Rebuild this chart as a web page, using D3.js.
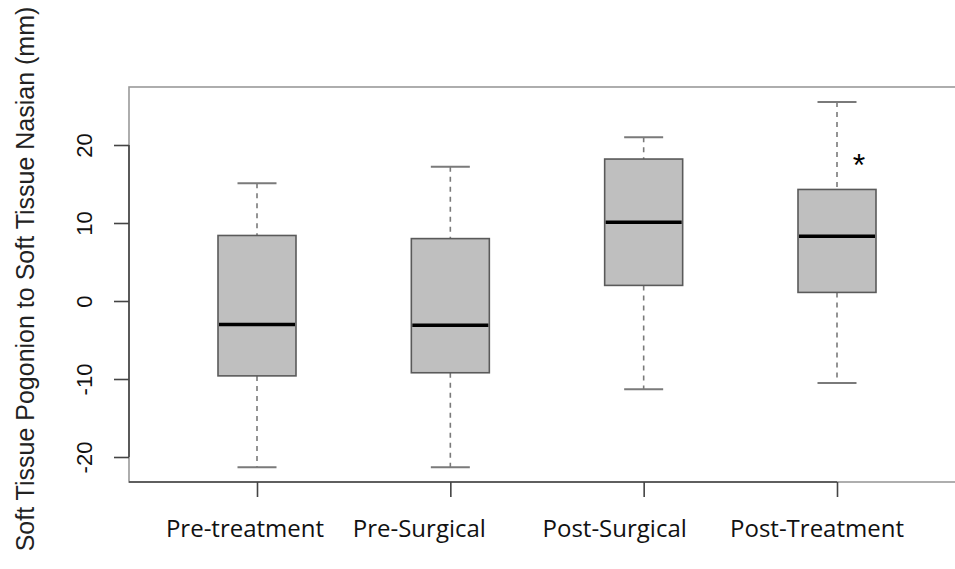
<!DOCTYPE html>
<html><head><meta charset="utf-8">
<script src="https://cdn.jsdelivr.net/npm/d3@7"></script>
<style>body{margin:0;background:#fff}svg{display:block}</style>
</head><body>
<svg id="c" width="955" height="569"></svg>
<script>
// ---- data ----
const categories = ["Pre-treatment", "Pre-Surgical", "Post-Surgical", "Post-Treatment"];
const whiskerLow  = [-21.3, -21.3, -11.3, -10.5];
const q1          = [-9.6,  -9.2,   2.0,   1.1];
const median      = [-3.0,  -3.1,  10.1,   8.3];
const q3          = [ 8.4,   8.0,  18.2,  14.3];
const whiskerHigh = [15.1,  17.2,  21.0,  25.5];
const yTicks = [-20, -10, 0, 10, 20];
const starCategory = ["Post-Treatment"];
const starValue = [17.8];
const yTitle = "Soft Tissue Pogonion to Soft Tissue Nasian (mm)";

// ---- layout ----
const svg = d3.select("#c");
const frame = {left:129, right:965, top:87, bottom:482};
const y = d3.scaleLinear().domain([-20, 20]).range([457, 145]);
const x = d3.scalePoint().domain(categories).range([257, 837]);
const boxW = 78, capW = 39;
const labelShift = [-12, -31, -29, -20];

// frame
svg.append("rect").attr("x", frame.left).attr("y", frame.top)
  .attr("width", frame.right - frame.left).attr("height", frame.bottom - frame.top)
  .attr("fill", "none").attr("stroke", "#9a9a9a").attr("stroke-width", 1.6);

// boxes
const data = categories.map((c, i) => ({c, i, lo: whiskerLow[i], q1: q1[i], med: median[i], q3: q3[i], hi: whiskerHigh[i]}));
const g = svg.append("g");
const b = g.selectAll("g.box").data(data).join("g").attr("class", "box");
b.append("line").attr("x1", d => x(d.c)).attr("x2", d => x(d.c))
  .attr("y1", d => y(d.hi)).attr("y2", d => y(d.q3))
  .attr("stroke", "#7a7a7a").attr("stroke-width", 1.6).attr("stroke-dasharray", "5,5");
b.append("line").attr("x1", d => x(d.c)).attr("x2", d => x(d.c))
  .attr("y1", d => y(d.q1)).attr("y2", d => y(d.lo))
  .attr("stroke", "#7a7a7a").attr("stroke-width", 1.6).attr("stroke-dasharray", "5,5");
b.append("line").attr("x1", d => x(d.c) - capW/2).attr("x2", d => x(d.c) + capW/2)
  .attr("y1", d => y(d.hi)).attr("y2", d => y(d.hi))
  .attr("stroke", "#7a7a7a").attr("stroke-width", 2);
b.append("line").attr("x1", d => x(d.c) - capW/2).attr("x2", d => x(d.c) + capW/2)
  .attr("y1", d => y(d.lo)).attr("y2", d => y(d.lo))
  .attr("stroke", "#7a7a7a").attr("stroke-width", 2);
b.append("rect").attr("x", d => x(d.c) - boxW/2).attr("width", boxW)
  .attr("y", d => y(d.q3)).attr("height", d => y(d.q1) - y(d.q3))
  .attr("fill", "#bfbfbf").attr("stroke", "#5a5a5a").attr("stroke-width", 1.6);
b.append("line").attr("x1", d => x(d.c) - boxW/2 + 1).attr("x2", d => x(d.c) + boxW/2 - 1)
  .attr("y1", d => y(d.med)).attr("y2", d => y(d.med))
  .attr("stroke", "#000").attr("stroke-width", 3.5);

// star
svg.selectAll("text.star").data(starCategory).join("text").attr("class", "star")
  .attr("x", (d, i) => x(d) + 22).attr("y", (d, i) => y(starValue[i]) + 14)
  .attr("text-anchor", "middle").attr("font-family", "Liberation Sans, Arial, sans-serif")
  .attr("font-size", 32).text("*");

// y axis
const yAxis = svg.append("g").attr("transform", `translate(${frame.left},0)`)
  .call(d3.axisLeft(y).tickValues(yTicks).tickSize(15).tickPadding(0).tickFormat(d3.format("d")));
yAxis.select(".domain").attr("stroke", "#444").attr("stroke-width", 1.6)
  .attr("d", `M0,${y(20)}V${y(-20)}`);
yAxis.selectAll(".tick line").attr("stroke", "#444").attr("stroke-width", 1.6);
yAxis.selectAll(".tick text")
  .attr("font-family", "Liberation Sans, Arial, sans-serif").attr("font-size", 22).attr("fill", "#111")
  .attr("text-anchor", "middle").attr("x", 0).attr("dy", 0)
  .attr("transform", "translate(-45,0) rotate(-90)")
  .attr("y", 0).attr("dominant-baseline", "central").text(d => d3.format("d")(d).replace("−", "-"));

// x axis
const xAxis = svg.append("g").attr("transform", `translate(0,${frame.bottom})`)
  .call(d3.axisBottom(x).tickSize(15).tickFormat(""));
xAxis.select(".domain").attr("stroke", "#444").attr("stroke-width", 1.6)
  .attr("d", `M${frame.left},0H${x(categories[3])}`);
xAxis.selectAll(".tick line").attr("stroke", "#444").attr("stroke-width", 1.6);

svg.selectAll("text.xlab").data(categories).join("text").attr("class", "xlab")
  .attr("x", (d, i) => x(d) + labelShift[i]).attr("y", 537)
  .attr("text-anchor", "middle")
  .attr("font-family", "Open Sans, sans-serif").attr("font-size", 24).attr("fill", "#111")
  .text(d => d);

// y title
svg.append("text").attr("transform", "translate(34,279) rotate(-90)")
  .attr("text-anchor", "middle").attr("font-family", "Liberation Sans, Arial, sans-serif")
  .attr("font-size", 25).attr("fill", "#222").text(yTitle);
</script>
</body></html>
